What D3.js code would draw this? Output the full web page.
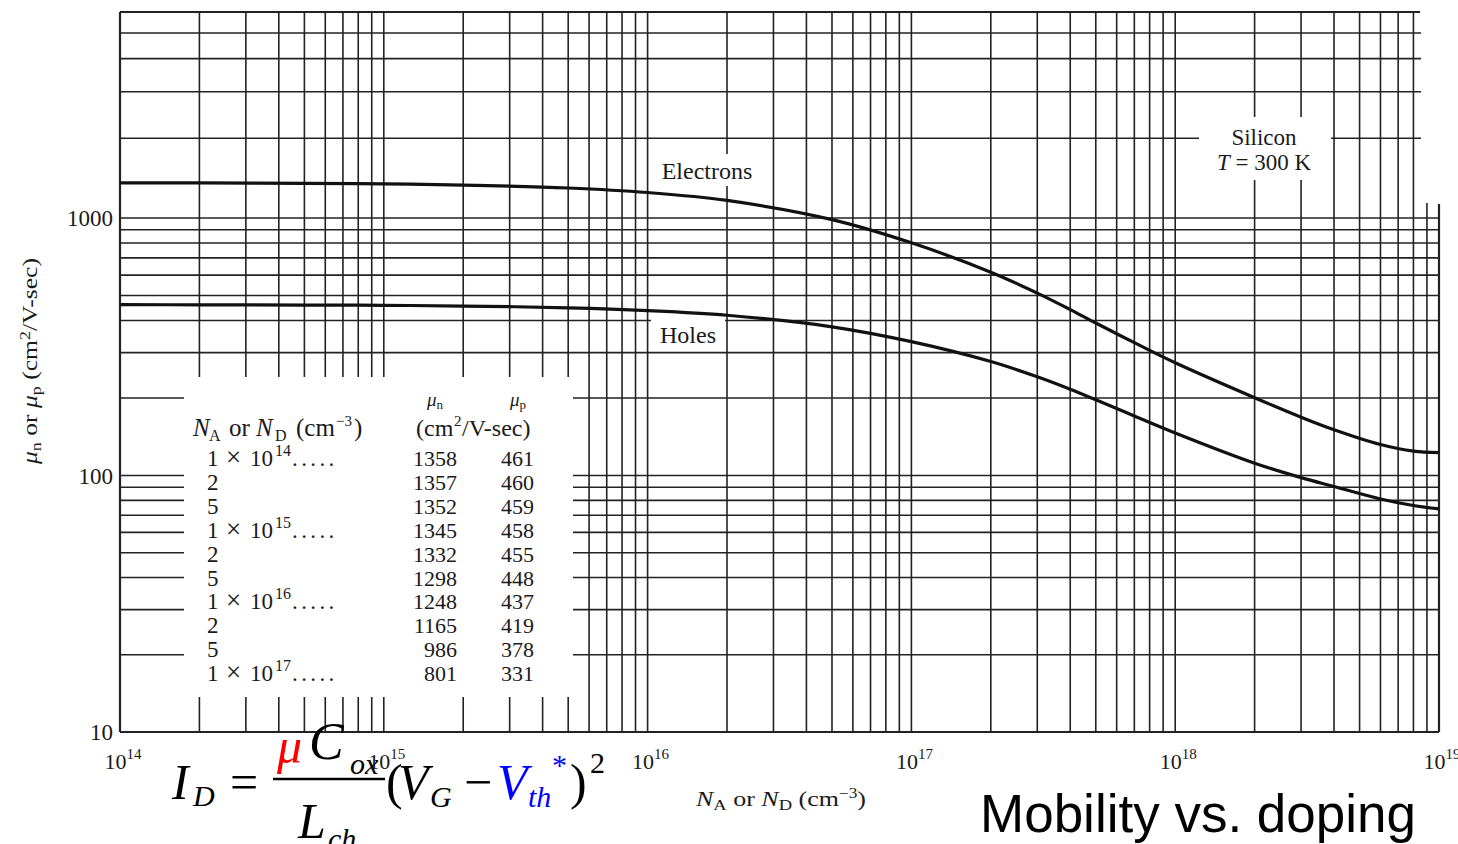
<!DOCTYPE html>
<html>
<head>
<meta charset="utf-8">
<script src="https://cdn.jsdelivr.net/npm/d3@7"></script>
<style>
  body { margin: 0; background: #fff; }
  svg { display: block; }
  text { font-family: "Liberation Serif", "Times New Roman", serif; fill: #1a1a1a; }
</style>
</head>
<body>
<svg id="chart" width="1458" height="844"></svg>
<script>
// Silicon, T = 300 K: tabulated mobilities (cm^2/V-sec)
const dopingTable = [1e14, 2e14, 5e14, 1e15, 2e15, 5e15, 1e16, 2e16, 5e16, 1e17];
const muNTable = [1358, 1357, 1352, 1345, 1332, 1298, 1248, 1165, 986, 801];
const muPTable = [461, 460, 459, 458, 455, 448, 437, 419, 378, 331];

// Heavily doped range
const dopingHigh = [2e17, 3e17, 4e17, 5e17, 7e17, 1e18, 2e18, 3e18, 4e18, 6e18, 8e18, 1e19];
const muNHigh = [616, 511, 441, 391, 328, 274, 200.5, 168.5, 150.6, 132, 124.4, 122.6];
const muPHigh = [277, 241.7, 216.2, 196.8, 170.2, 146.2, 111.6, 98.1, 90.6, 81, 76.4, 74.1];

// Axis ticks
const xDecades = [1e14, 1e15, 1e16, 1e17, 1e18, 1e19];
const yTickValues = [10, 100, 1000];

const svg = d3.select("#chart");
const INK = "#222";

// Scales (log-log)
const x = d3.scaleLog().domain([1e14, 1e19]).range([120, 1439]);
const y = d3.scaleLog().domain([10, 100, 1000, 6000]).range([732, 475.5, 218, 12]);
const yTop = 6000;

// ---------- grid ----------
const grid = svg.append("g").attr("stroke", INK).attr("stroke-width", 1.6);

const xGrid = [];
for (let e = 14; e < 19; e++) for (let m = 2; m <= 9; m++) xGrid.push(m * Math.pow(10, e));
xDecades.slice(1, -1).forEach(v => xGrid.push(v));
grid.selectAll("line.v").data(xGrid).join("line")
  .attr("class", "v")
  .attr("x1", d => x(d)).attr("x2", d => x(d))
  .attr("y1", y(yTop)).attr("y2", y(10));

const yGrid = [];
[10, 100, 1000].forEach(base => {
  for (let m = 2; m <= 9; m++) {
    const v = m * base;
    if (v < yTop) yGrid.push(v);
  }
});
yGrid.push(100, 1000);
grid.selectAll("line.h").data(yGrid).join("line")
  .attr("class", "h")
  .attr("x1", x(1e14)).attr("x2", x(1e19))
  .attr("y1", d => y(d)).attr("y2", d => y(d));

// ---------- cleared panels (table, labels, corner) ----------
const blank = svg.append("g").attr("fill", "#fff");
blank.append("rect").attr("x", 184).attr("y", 377).attr("width", 389).attr("height", 320);      // table
blank.append("rect").attr("x", 655).attr("y", 154).attr("width", 105).attr("height", 32);       // Electrons
blank.append("rect").attr("x", 651).attr("y", 319).attr("width", 74).attr("height", 29);        // Holes
blank.append("rect").attr("x", 1199).attr("y", 117).attr("width", 132).attr("height", 63);      // Silicon
blank.append("rect").attr("x", 1421).attr("y", 0).attr("width", 40).attr("height", 203);        // corner

// ---------- frame ----------
const frame = svg.append("g").attr("stroke", INK).attr("stroke-width", 2.2).attr("fill", "none");
frame.append("line").attr("x1", x(1e14)).attr("x2", x(1e14)).attr("y1", y(yTop)).attr("y2", y(10));
frame.append("line").attr("x1", x(1e14)).attr("x2", x(1e19)).attr("y1", y(10)).attr("y2", y(10));
frame.append("line").attr("x1", x(1e14)).attr("x2", 1420).attr("y1", y(yTop)).attr("y2", y(yTop));
frame.append("line").attr("x1", x(1e19)).attr("x2", x(1e19)).attr("y1", 204).attr("y2", y(10));

// ---------- curves ----------
const electrons = dopingTable.map((n, i) => [n, muNTable[i]])
  .concat(dopingHigh.map((n, i) => [n, muNHigh[i]]));
const holes = dopingTable.map((n, i) => [n, muPTable[i]])
  .concat(dopingHigh.map((n, i) => [n, muPHigh[i]]));

const line = d3.line().x(d => x(d[0])).y(d => y(d[1])).curve(d3.curveCatmullRom.alpha(0.5));
svg.selectAll("path.curve").data([electrons, holes]).join("path")
  .attr("class", "curve")
  .attr("d", line)
  .attr("fill", "none").attr("stroke", "#111").attr("stroke-width", 3.2)
  .attr("stroke-linejoin", "round");

// ---------- axis labels ----------
svg.selectAll("text.ylab").data(yTickValues).join("text")
  .attr("class", "ylab")
  .attr("x", 113).attr("y", d => y(d) + 8)
  .attr("text-anchor", "end").attr("font-size", 23)
  .text(d => d);

const xl = svg.selectAll("text.xlab").data(xDecades).join("text")
  .attr("class", "xlab")
  .attr("x", d => x(d) + 3).attr("y", 769)
  .attr("text-anchor", "middle").attr("font-size", 22);
xl.append("tspan").text("10");
xl.append("tspan").attr("font-size", 15).attr("dy", -10).text(d => Math.round(Math.log10(d)));

// x-axis title
const xt = svg.append("text").attr("x", 696).attr("y", 806).attr("font-size", 21)
  .attr("textLength", 170).attr("lengthAdjust", "spacingAndGlyphs");
xt.append("tspan").attr("font-style", "italic").text("N");
xt.append("tspan").attr("font-size", 15).attr("dy", 4).text("A");
xt.append("tspan").attr("dy", -4).text(" or ");
xt.append("tspan").attr("font-style", "italic").text("N");
xt.append("tspan").attr("font-size", 15).attr("dy", 4).text("D");
xt.append("tspan").attr("dy", -4).text(" (cm");
xt.append("tspan").attr("font-size", 14).attr("dy", -8).text("\u22123");
xt.append("tspan").attr("dy", 8).text(")");

// y-axis title
const yt = svg.append("text").attr("transform", "translate(37,464) rotate(-90)")
  .attr("font-size", 20)
  .attr("textLength", 206).attr("lengthAdjust", "spacingAndGlyphs");
yt.append("tspan").attr("font-style", "italic").text("\u03bc");
yt.append("tspan").attr("font-size", 14).attr("dy", 4).text("n");
yt.append("tspan").attr("dy", -4).text(" or ");
yt.append("tspan").attr("font-style", "italic").text("\u03bc");
yt.append("tspan").attr("font-size", 14).attr("dy", 4).text("p");
yt.append("tspan").attr("dy", -4).text(" (cm");
yt.append("tspan").attr("font-size", 14).attr("dy", -7).text("2");
yt.append("tspan").attr("dy", 7).text("/V-sec)");

// ---------- curve labels ----------
svg.append("text").attr("x", 707).attr("y", 179).attr("text-anchor", "middle").attr("font-size", 24).text("Electrons");
svg.append("text").attr("x", 688).attr("y", 343).attr("text-anchor", "middle").attr("font-size", 24).text("Holes");
svg.append("text").attr("x", 1264).attr("y", 145).attr("text-anchor", "middle").attr("font-size", 23).text("Silicon");
const tk = svg.append("text").attr("x", 1264).attr("y", 170).attr("text-anchor", "middle").attr("font-size", 23);
tk.append("tspan").attr("font-style", "italic").text("T");
tk.append("tspan").text(" = 300 K");

// ---------- table ----------
const tbl = svg.append("g").attr("font-size", 22);
const h1 = tbl.append("text").attr("x", 435).attr("y", 406).attr("text-anchor", "middle").attr("font-size", 19);
h1.append("tspan").attr("font-style", "italic").text("\u03bc");
h1.append("tspan").attr("font-size", 13).attr("dy", 3).text("n");
const h2 = tbl.append("text").attr("x", 518).attr("y", 406).attr("text-anchor", "middle").attr("font-size", 19);
h2.append("tspan").attr("font-style", "italic").text("\u03bc");
h2.append("tspan").attr("font-size", 13).attr("dy", 3).text("p");

const h3 = tbl.append("text").attr("y", 436).attr("font-size", 25);
h3.append("tspan").attr("x", 193).attr("font-style", "italic").text("N");
h3.append("tspan").attr("x", 209).attr("font-size", 16).attr("dy", 5).text("A");
h3.append("tspan").attr("x", 229).attr("dy", -5).text("or");
h3.append("tspan").attr("x", 256).attr("font-style", "italic").text("N");
h3.append("tspan").attr("x", 275).attr("font-size", 16).attr("dy", 5).text("D");
h3.append("tspan").attr("x", 296).attr("dy", -5).text("(cm");
h3.append("tspan").attr("x", 336).attr("font-size", 15).attr("dy", -10).text("\u22123");
h3.append("tspan").attr("x", 354).attr("dy", 10).text(")");

const h4 = tbl.append("text").attr("y", 436).attr("font-size", 24);
h4.append("tspan").attr("x", 416).text("(cm");
h4.append("tspan").attr("x", 454).attr("font-size", 15).attr("dy", -10).text("2");
h4.append("tspan").attr("x", 462).attr("dy", 10).text("/V-sec)");

const rowY = i => 466 + i * 23.9;
dopingTable.forEach((n, i) => {
  const ex = Math.floor(Math.log10(n) + 1e-9);
  const mant = Math.round(n / Math.pow(10, ex));
  const t = tbl.append("text").attr("y", rowY(i)).attr("font-size", 23);
  if (mant === 1) {
    t.append("tspan").attr("x", 207).text("1");
    t.append("tspan").attr("x", 226).attr("font-size", 27).text("\u00d7");
    t.append("tspan").attr("x", 250).text("10");
    t.append("tspan").attr("x", 275).attr("font-size", 16).attr("dy", -10).text(ex);
    t.append("tspan").attr("x", 292).attr("dy", 10).attr("letter-spacing", 3.4).text(".....");
  } else {
    t.append("tspan").attr("x", 207).text(mant);
  }
  tbl.append("text").attr("x", 457).attr("y", rowY(i)).attr("text-anchor", "end").text(muNTable[i]);
  tbl.append("text").attr("x", 534).attr("y", rowY(i)).attr("text-anchor", "end").text(muPTable[i]);
});

// ---------- drain current expression ----------
const eq = svg.append("g");
const put = (txt, px, py, size, opts = {}) => eq.append("text")
  .attr("x", px).attr("y", py).attr("font-size", size)
  .attr("font-style", opts.italic ? "italic" : "normal")
  .style("fill", opts.color || "#000")
  .text(txt);
put("I", 172, 799, 50, { italic: true });
put("D", 193, 806, 30, { italic: true });
put("=", 230, 799, 50);
put("\u03bc", 277, 763, 50, { italic: true, color: "#ff0000" });
put("C", 309, 759, 52, { italic: true });
put("ox", 350, 774, 30, { italic: true });
eq.append("line").attr("x1", 273).attr("x2", 385).attr("y1", 779).attr("y2", 779)
  .attr("stroke", "#000").attr("stroke-width", 2.4);
put("L", 298, 838, 50, { italic: true });
put("ch", 328, 849, 30, { italic: true });
put("(", 386, 799, 50);
put("V", 398, 799, 50, { italic: true });
put("G", 430, 807, 30, { italic: true });
put("\u2212", 464, 799, 50);
put("V", 497, 799, 50, { italic: true, color: "#0000ff" });
put("th", 528, 807, 30, { italic: true, color: "#0000ff" });
put("*", 552, 775, 30, { color: "#0000ff" });
put(")", 570, 799, 50);
put("2", 590, 773, 30);

// ---------- caption ----------
svg.append("text").attr("x", 980).attr("y", 832)
  .style("font-family", "'Liberation Sans', Arial, sans-serif")
  .attr("font-size", 53).style("fill", "#000")
  .text("Mobility vs. doping");
</script>
</body>
</html>
